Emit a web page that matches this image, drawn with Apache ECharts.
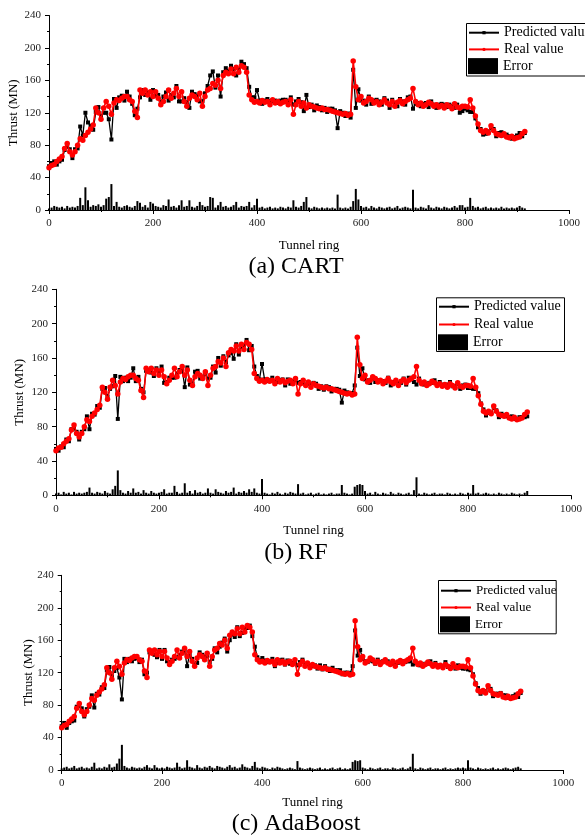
<!DOCTYPE html>
<html>
<head>
<meta charset="utf-8">
<script src="https://cdn.jsdelivr.net/npm/echarts@6/dist/echarts.min.js"></script>
<style>
  html, body { margin: 0; padding: 0; background: #fff; }
  #main { width: 585px; height: 837px; }
</style>
</head>
<body>
<div id="main"></div>
<script>
// ring numbers, one sample every 5 rings
var rings = [];
for (var k = 0; k < 184; k++) rings.push(k * 5);

// real thrust (MN), same in all three panels
var realValue = [
  52, 55, 56, 60, 63, 66, 76, 82, 72, 68,
  72, 80, 88, 86, 92, 96, 100, 105, 126, 120,
  112, 126, 134, 128, 118, 132, 136, 135, 138, 140,
  140, 136, 134, 122, 114, 148, 144, 148, 142, 146,
  140, 146, 138, 130, 134, 140, 148, 138, 144, 150,
  140, 146, 134, 128, 138, 142, 140, 136, 144, 128,
  140, 148, 150, 156, 154, 160, 150, 166, 170, 168,
  174, 168, 176, 170, 178, 176, 170, 142, 136, 133,
  134, 132, 135, 133, 134, 130, 136, 132, 134, 131,
  133, 134, 130, 136, 118, 130, 134, 128, 132, 126,
  130, 128, 127, 126, 125, 126, 124, 124, 123, 122,
  121, 120, 119, 118, 119, 117, 118, 184, 152, 136,
  140, 132, 134, 138, 136, 132, 134, 130, 133, 136,
  132, 130, 134, 128, 133, 135, 131, 134, 136, 138,
  150, 134, 130, 132, 128, 130, 133, 131, 128, 130,
  127, 129, 126, 130, 128, 125, 131, 127, 126, 128,
  128, 127, 136, 126, 116, 106, 98, 96, 98, 95,
  104, 98, 94, 93, 92, 94, 90, 89, 91, 88,
  89, 90, 94, 97
];

// (a) CART
var cartPredicted = [
  54, 58, 60, 56, 60, 62, 74, 78, 75, 64,
  75, 76, 103, 92, 120, 108, 104, 99, 121, 127,
  116, 120, 120, 112, 87, 137, 126, 139, 141, 135,
  146, 140, 131, 117, 125, 139, 148, 142, 145, 136,
  148, 141, 142, 133, 140, 145, 135, 142, 139, 153,
  134, 134, 138, 133, 126, 146, 143, 141, 134, 134,
  144, 153, 166, 171, 151, 166, 140, 170, 175, 171,
  178, 174, 166, 173, 183, 180, 175, 152, 139, 139,
  148, 135, 131, 135, 137, 134, 134, 135, 132, 135,
  136, 136, 134, 139, 130, 134, 137, 133, 122, 142,
  127, 130, 123, 129, 127, 123, 126, 121, 125, 125,
  123, 101, 122, 120, 116, 119, 114, 173, 126, 149,
  135, 135, 130, 140, 131, 135, 136, 134, 130, 138,
  135, 126, 136, 131, 128, 137, 134, 130, 139, 140,
  125, 131, 132, 128, 131, 132, 127, 134, 130, 126,
  130, 131, 130, 127, 130, 128, 126, 130, 120, 122,
  125, 123, 121, 121, 113, 102, 100, 93, 94, 97,
  101, 100, 91, 95, 96, 92, 93, 91, 88, 90,
  92, 95, 91, 95
];
var cartError = [
  2, 3, 5, 4, 3, 4, 2, 5, 3, 4,
  3, 5, 15, 6, 28, 12, 4, 6, 5, 7,
  4, 6, 14, 16, 32, 5, 10, 4, 3, 5,
  6, 4, 3, 5, 11, 9, 4, 6, 3, 10,
  8, 5, 4, 3, 6, 5, 13, 4, 5, 3,
  6, 12, 4, 5, 12, 4, 3, 5, 10, 6,
  4, 5, 16, 15, 3, 6, 10, 4, 5, 3,
  4, 6, 10, 3, 5, 4, 5, 10, 3, 6,
  14, 3, 4, 2, 3, 4, 2, 3, 2, 4,
  3, 2, 4, 3, 12, 4, 3, 5, 10, 16,
  3, 2, 4, 3, 2, 3, 2, 3, 2, 3,
  2, 19, 3, 2, 3, 2, 4, 11, 26, 13,
  5, 3, 4, 2, 5, 3, 2, 4, 3, 2,
  3, 4, 2, 3, 5, 2, 3, 4, 3, 2,
  25, 3, 2, 4, 3, 2, 6, 3, 2, 4,
  3, 2, 4, 3, 2, 3, 5, 3, 6, 6,
  3, 4, 15, 5, 3, 4, 2, 3, 4, 2,
  3, 2, 3, 2, 4, 2, 3, 2, 3, 2,
  3, 5, 3, 2
];

// (b) RF
var rfPredicted = [
  54, 52, 57, 56, 65, 63, 77, 78, 74, 65,
  74, 77, 92, 77, 95, 94, 104, 102, 124, 125,
  115, 124, 127, 139, 89, 138, 133, 137, 133, 137,
  148, 133, 138, 124, 120, 145, 146, 143, 139, 148,
  143, 150, 131, 132, 137, 137, 137, 142, 146, 147,
  126, 149, 129, 130, 144, 145, 136, 138, 141, 136,
  137, 150, 143, 160, 151, 162, 155, 163, 166, 159,
  176, 164, 173, 175, 181, 169, 174, 150, 139, 135,
  153, 135, 133, 134, 137, 132, 132, 134, 135, 128,
  135, 130, 133, 134, 131, 132, 131, 129, 130, 129,
  131, 130, 124, 127, 123, 127, 126, 121, 124, 124,
  123, 108, 122, 120, 118, 119, 128, 172, 139, 148,
  135, 134, 131, 137, 132, 134, 133, 133, 131, 137,
  128, 132, 133, 131, 131, 136, 129, 137, 135, 132,
  129, 136, 131, 129, 130, 131, 131, 134, 129, 132,
  129, 128, 129, 132, 127, 127, 130, 124, 128, 129,
  125, 125, 124, 124, 119, 107, 100, 93, 96, 96,
  102, 99, 91, 95, 93, 92, 91, 92, 89, 89,
  91, 91, 91, 92
];
var rfError = [
  2, 3, 1, 4, 2, 3, 1, 4, 2, 3,
  2, 3, 4, 9, 3, 2, 4, 3, 2, 5,
  3, 2, 7, 11, 29, 6, 3, 2, 5, 3,
  8, 3, 4, 2, 6, 3, 2, 5, 3, 2,
  3, 4, 7, 2, 3, 3, 11, 4, 2, 3,
  14, 3, 5, 2, 6, 3, 4, 2, 3, 8,
  3, 2, 7, 4, 3, 2, 5, 3, 4, 9,
  2, 4, 3, 5, 3, 7, 4, 8, 3, 2,
  19, 3, 2, 1, 3, 2, 4, 2, 1, 3,
  2, 4, 3, 2, 13, 2, 3, 1, 2, 3,
  1, 2, 3, 1, 2, 1, 2, 3, 1, 2,
  2, 12, 3, 2, 1, 2, 10, 12, 13, 12,
  5, 2, 3, 1, 4, 2, 1, 3, 2, 1,
  4, 2, 1, 3, 2, 1, 2, 3, 1, 6,
  21, 2, 1, 3, 2, 1, 2, 3, 1, 2,
  2, 1, 3, 2, 1, 2, 1, 3, 2, 1,
  3, 2, 12, 2, 3, 1, 2, 3, 2, 1,
  2, 1, 3, 2, 1, 2, 1, 3, 2, 1,
  2, 1, 3, 5
];

// (c) AdaBoost
var adaPredicted = [
  54, 58, 52, 58, 60, 61, 78, 79, 76, 66,
  75, 78, 92, 77, 94, 93, 102, 101, 123, 127,
  115, 122, 126, 114, 87, 137, 133, 137, 134, 137,
  138, 133, 136, 118, 120, 145, 146, 142, 139, 148,
  137, 148, 134, 133, 136, 137, 139, 142, 146, 147,
  128, 142, 137, 130, 132, 145, 142, 140, 141, 133,
  137, 150, 145, 152, 157, 162, 146, 160, 167, 164,
  176, 165, 169, 174, 175, 178, 165, 152, 139, 135,
  138, 135, 133, 134, 137, 128, 132, 135, 136, 130,
  135, 131, 132, 135, 129, 133, 136, 129, 130, 129,
  128, 129, 125, 129, 124, 128, 125, 122, 126, 123,
  123, 123, 118, 120, 120, 119, 128, 172, 141, 148,
  137, 134, 133, 135, 134, 131, 136, 133, 134, 134,
  134, 131, 131, 130, 132, 133, 134, 133, 134, 134,
  130, 132, 131, 129, 130, 131, 131, 134, 129, 132,
  129, 128, 128, 133, 127, 127, 130, 125, 129, 126,
  125, 125, 124, 123, 118, 107, 101, 94, 97, 97,
  103, 100, 91, 94, 94, 95, 92, 92, 89, 89,
  91, 93, 90, 95
];
var adaError = [
  2, 3, 4, 2, 3, 5, 2, 3, 4, 2,
  3, 2, 4, 9, 2, 3, 2, 4, 3, 7,
  3, 4, 8, 14, 31, 5, 3, 2, 4, 3,
  2, 3, 2, 4, 6, 3, 2, 6, 3, 2,
  3, 2, 4, 3, 2, 3, 9, 4, 2, 3,
  12, 4, 3, 2, 6, 3, 2, 4, 3, 5,
  3, 2, 5, 4, 3, 2, 4, 6, 3, 4,
  2, 3, 7, 4, 3, 2, 5, 10, 3, 2,
  4, 3, 2, 1, 3, 2, 4, 3, 2, 1,
  2, 3, 2, 1, 11, 3, 2, 1, 2, 3,
  2, 1, 2, 3, 1, 2, 1, 2, 3, 1,
  2, 3, 1, 2, 1, 2, 10, 12, 11, 12,
  3, 2, 1, 3, 2, 1, 2, 3, 1, 2,
  2, 1, 3, 2, 1, 2, 3, 1, 2, 4,
  20, 2, 1, 3, 2, 1, 2, 3, 1, 2,
  2, 1, 2, 3, 1, 2, 1, 2, 3, 2,
  3, 2, 12, 3, 2, 1, 3, 2, 1, 2,
  1, 2, 3, 1, 2, 1, 2, 3, 2, 1,
  2, 3, 4, 2
];

var captions = ['(a) CART', '(b) RF', '(c) AdaBoost'];
var predictedSets = [cartPredicted, rfPredicted, adaPredicted];
var errorSets = [cartError, rfError, adaError];

// layout of the three panels (pixels)
var panels = [
  { left: 49, top: 15.5, width: 520, height: 194.5, gapX: 29, gapY: 29, capY: 267,
    box: [466, 23, 130, 52.5], iconX: 468, row1: 32.7, rowH: 16.7, font: 14 },
  { left: 56, top: 289.3, width: 515, height: 206, gapX: 29, gapY: 29.5, capY: 553,
    box: [436, 297.3, 128, 53.7], iconX: 438, row1: 306.7, rowH: 17.8, font: 14 },
  { left: 61.7, top: 575.3, width: 501.6, height: 194.7, gapX: 26, gapY: 27, capY: 824,
    box: [438, 580, 117.7, 53.3], iconX: 440, row1: 590.7, rowH: 16.8, font: 13 }
];

var serif = 'Liberation Serif';

function pairs(xs, ys) {
  return ys.map(function (v, i) { return [xs[i], v]; });
}

var grids = [], xAxes = [], yAxes = [], series = [], legends = [], graphics = [];

panels.forEach(function (p, i) {
  grids.push({ left: p.left, top: p.top, width: p.width, height: p.height, outerBoundsMode: 'none' });

  xAxes.push({
    gridIndex: i, type: 'value', min: 0, max: 1000, interval: 200,
    name: 'Tunnel ring', nameLocation: 'middle', nameGap: p.gapX, nameMoveOverlap: false,
    nameTextStyle: { fontFamily: serif, fontSize: 13, color: '#000' },
    axisLine: { onZero: false, lineStyle: { color: '#000', width: 1 } },
    axisTick: { length: 4, lineStyle: { color: '#000' } },
    minorTick: { show: true, splitNumber: 2, length: 2, lineStyle: { color: '#000' } },
    axisLabel: { fontFamily: serif, fontSize: 11, color: '#222', margin: 8,
                 formatter: function (v) { return String(v); } },
    splitLine: { show: false }
  });

  yAxes.push({
    gridIndex: i, type: 'value', min: 0, max: 240, interval: 40,
    name: 'Thrust (MN)', nameLocation: 'middle', nameGap: p.gapY, nameMoveOverlap: false,
    nameTextStyle: { fontFamily: serif, fontSize: 13, color: '#000' },
    axisLine: { show: true, lineStyle: { color: '#000', width: 1 } },
    axisTick: { show: true, length: 4, lineStyle: { color: '#000' } },
    minorTick: { show: true, splitNumber: 2, length: 2, lineStyle: { color: '#000' } },
    axisLabel: { fontFamily: serif, fontSize: 11, color: '#222', margin: 8 },
    splitLine: { show: false }
  });

  series.push({
    name: 'Error', type: 'bar', xAxisIndex: i, yAxisIndex: i,
    data: pairs(rings, errorSets[i]),
    barWidth: 2, itemStyle: { color: '#000' }, z: 1
  });
  series.push({
    name: 'Predicted value', type: 'line', xAxisIndex: i, yAxisIndex: i,
    data: pairs(rings, predictedSets[i]),
    symbol: 'rect', symbolSize: 4, showAllSymbol: true,
    lineStyle: { color: '#000', width: 1.3 }, itemStyle: { color: '#000' }, z: 2
  });
  series.push({
    name: 'Real value', type: 'line', xAxisIndex: i, yAxisIndex: i,
    data: pairs(rings, realValue),
    symbol: 'circle', symbolSize: 5.5, showAllSymbol: true,
    lineStyle: { color: '#ff0000', width: 1.6 }, itemStyle: { color: '#ff0000' }, z: 3
  });

  // legend frame
  graphics.push({
    type: 'rect', left: p.box[0], top: p.box[1], z: 5,
    shape: { width: p.box[2], height: p.box[3] },
    style: { fill: '#fff', stroke: '#000', lineWidth: 1 }
  });

  legends.push({
    orient: 'vertical', left: p.iconX, top: p.row1 - p.rowH / 2, padding: 0,
    itemWidth: 30, itemHeight: 4, itemGap: 0, selectedMode: false, z: 6,
    data: ['Predicted value', 'Real value'],
    textStyle: { fontFamily: serif, fontSize: p.font, color: '#000', lineHeight: p.rowH }
  });
  legends.push({
    orient: 'vertical', left: p.iconX, top: p.row1 + 2 * p.rowH - 8, padding: 0,
    itemWidth: 30, itemHeight: 16, selectedMode: false, z: 6,
    data: [{ name: 'Error', icon: 'rect' }],
    textStyle: { fontFamily: serif, fontSize: p.font, color: '#000', lineHeight: 16 }
  });

  graphics.push({
    type: 'text', x: 296, y: p.capY, z: 5,
    style: { text: captions[i], fontFamily: serif, fontSize: 24, fill: '#000',
             align: 'center', verticalAlign: 'middle' }
  });
});

var chart = echarts.init(document.getElementById('main'), null, { renderer: 'canvas' });
chart.setOption({
  animation: false,
  backgroundColor: '#fff',
  grid: grids,
  xAxis: xAxes,
  yAxis: yAxes,
  legend: legends,
  graphic: graphics,
  series: series
});
</script>
</body>
</html>
